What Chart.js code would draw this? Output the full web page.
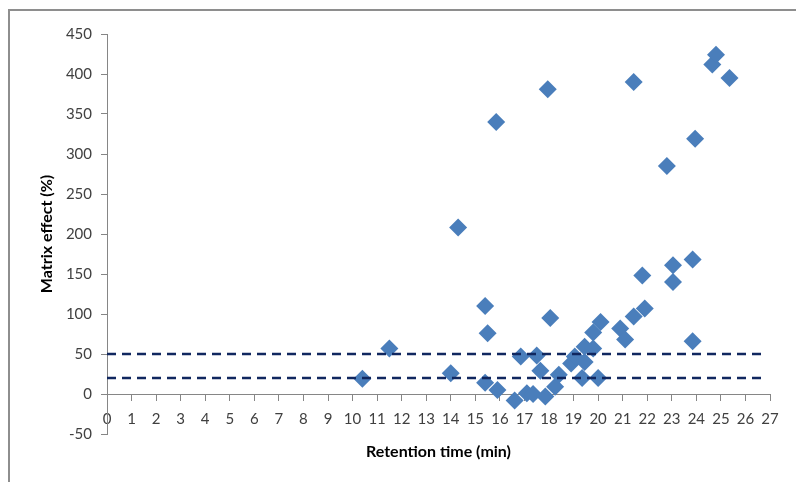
<!DOCTYPE html>
<html>
<head>
<meta charset="utf-8">
<script src="https://cdn.jsdelivr.net/npm/chart.js@4/dist/chart.umd.min.js"></script>
<style>
  body { margin: 0; background: #fff; }
  #wrap { position: relative; width: 796px; height: 482px; overflow: hidden; }
  #frame { position: absolute; left: 8px; top: 9px; width: 800px; height: 480px;
           border-top: 2px solid #8e8e8e; border-left: 2px solid #8e8e8e; }
  canvas { position: absolute; left: 0; top: 0; }
</style>
</head>
<body>
<div id="wrap">
  <div id="frame"></div>
  <canvas id="myChart" width="796" height="482"></canvas>
</div>
<script>
// retention time (min) and matrix effect (%) for each compound
const retentionTime = [10.4, 11.5, 14.0, 14.3, 15.4, 15.5, 15.4, 15.85, 15.9, 16.6, 16.85, 17.1, 17.35, 17.5, 17.65,
    17.85, 17.95, 18.05, 18.25, 18.4, 18.9, 19.05, 19.35, 19.45, 19.45, 19.8, 19.8, 20.0, 20.1, 20.9,
    21.1, 21.45, 21.45, 21.8, 21.9, 22.8, 23.05, 23.05, 23.85, 23.85, 23.95, 24.65, 24.8, 25.35];
const matrixEffect = [19, 57, 26, 208, 110, 76, 14, 340, 5, -8, 47, 1, 0, 48, 29,
    -3, 381, 95, 9, 24, 38, 47, 20, 40, 59, 57, 77, 20, 90, 82,
    68, 390, 97, 148, 107, 285, 161, 140, 168, 66, 319, 412, 424, 395];

// dashed limit lines
const limits = [50, 20];
const limitRange = [0, 26.8];

window.addEventListener("DOMContentLoaded", function () {
    let ctx = document.getElementById('myChart');

    let puntos = retentionTime.map((t, i) => ({x: t, y: matrixEffect[i]}));

    let lineas = limits.map(v => ({
        type: 'line',
        data: limitRange.map(x => ({x: x, y: v})),
        borderColor: '#10275f',
        borderWidth: 2.5,
        borderDash: [9, 6],
        pointRadius: 0,
        fill: false,
        order: 0
    }));

    new Chart(ctx, {
        type: 'scatter',
        data: {
            datasets: [{
                label: 'Matrix effect',
                data: puntos,
                pointStyle: 'rectRot',
                pointRadius: 9,
                pointHoverRadius: 9,
                backgroundColor: '#4a7ebb',
                borderWidth: 0,
                order: 1
            }].concat(lineas)
        },
        options: {
            responsive: false,
            animation: false,
            events: [],
            layout: { padding: { left: 0, top: 34, right: 26, bottom: 48 } },
            plugins: { legend: { display: false }, tooltip: { enabled: false } },
            scales: {
                x: {
                    type: 'linear',
                    position: { y: 0 },
                    min: 0, max: 27,
                    ticks: { stepSize: 1, padding: 10, color: '#404040', font: { family: 'Lato', size: 15 } },
                    grid: { drawOnChartArea: false, drawTicks: true, tickLength: 6, color: '#868686' },
                    border: { display: true, color: '#868686' },
                    title: { display: true, text: 'Retention time (min)', color: '#000',
                        font: { family: 'Lato', size: 16, weight: 'bold' }, padding: { top: 0, bottom: 3 } },
                    afterFit: function (s) { s.height = 70; }
                },
                y: {
                    position: 'left',
                    min: -50, max: 450,
                    ticks: { stepSize: 50, padding: 9, color: '#404040', font: { family: 'Lato', size: 15 } },
                    grid: { drawOnChartArea: false, drawTicks: true, tickLength: 6, color: '#868686' },
                    border: { display: true, color: '#868686' },
                    title: { display: true, text: 'Matrix effect (%)', color: '#000',
                        font: { family: 'Lato', size: 16, weight: 'bold' }, padding: { top: 37, bottom: 0 } },
                    afterFit: function (s) { s.width = 107; }
                }
            }
        }
    });
});
</script>
</body>
</html>
